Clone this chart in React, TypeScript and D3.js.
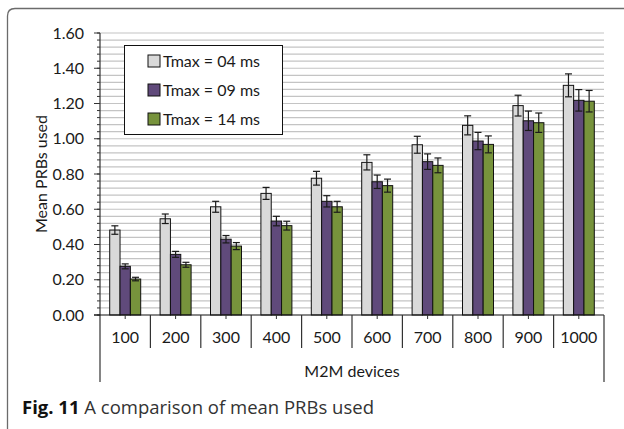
import React from "react";
import * as d3 from "d3";

const categories = ["100", "200", "300", "400", "500", "600", "700", "800", "900", "1000"];
const seriesNames = ["Tmax = 04 ms", "Tmax = 09 ms", "Tmax = 14 ms"];
const seriesColors = ["#d9d9d9", "#604a7b", "#77933c"];
const tmax04 = [0.482, 0.546, 0.614, 0.69, 0.776, 0.866, 0.966, 1.076, 1.188, 1.303];
const tmax09 = [0.276, 0.344, 0.43, 0.533, 0.645, 0.756, 0.87, 0.987, 1.102, 1.218];
const tmax14 = [0.204, 0.285, 0.391, 0.507, 0.614, 0.734, 0.849, 0.968, 1.091, 1.213];
const err04 = [0.024, 0.027, 0.031, 0.034, 0.039, 0.043, 0.048, 0.054, 0.059, 0.065];
const err09 = [0.014, 0.017, 0.021, 0.027, 0.032, 0.038, 0.044, 0.049, 0.055, 0.061];
const err14 = [0.01, 0.014, 0.02, 0.025, 0.031, 0.037, 0.042, 0.048, 0.055, 0.061];
const yTicks = [0, 0.2, 0.4, 0.6, 0.8, 1.0, 1.2, 1.4, 1.6];
const yTitle = "Mean PRBs used";
const xTitle = "M2M devices";

const values = [tmax04, tmax09, tmax14];
const errors = [err04, err09, err14];

const FONT = "Lato, 'Open Sans', sans-serif";
const FS = 16;

export default function App() {
  const left = 100, right = 604, top = 33, bottom = 315;
  const x0 = d3.scaleBand<string>().domain(categories).range([left, right]).paddingInner(0).paddingOuter(0);
  const step = x0.bandwidth();
  const x1 = d3.scaleBand<string>().domain(seriesNames).range([9.7, step - 9.7]).padding(0);
  const y = d3.scaleLinear().domain([0, 1.6]).range([bottom, top]);
  const minor = d3.range(0, 41).map((i) => i * 0.04);

  return (
    <svg width={624} height={429} style={{ position: "absolute", left: 0, top: 0, background: "#fff" }}>
      {/* frame */}
      <path d="M7.5,440 L7.5,16 Q7.5,8.5 15,8.5 L640,8.5" fill="none" stroke="#6b6b6b" strokeWidth={1.3} />

      {/* gridlines */}
      {minor.slice(1).map((v, i) => (
        <line key={"g" + i} x1={left} x2={right} y1={y(v)} y2={y(v)} stroke="#c4c4c4" strokeWidth={1.2} />
      ))}

      {/* y minor ticks */}
      {minor.map((v, i) => (
        <line key={"mt" + i} x1={left - 3} x2={left} y1={y(v)} y2={y(v)} stroke="#333" strokeWidth={1} />
      ))}
      {yTicks.map((v, i) => (
        <g key={"yt" + i}>
          <line x1={left - 6} x2={left} y1={y(v)} y2={y(v)} stroke="#333" strokeWidth={1} />
          <text x={84} y={y(v)} dy="0.35em" textAnchor="end" fontFamily={FONT} fontSize={FS} fill="#1a1a1a">
            {d3.format(".2f")(v)}
          </text>
        </g>
      ))}

      {/* bars */}
      {categories.map((c, ci) => (
        <g key={"c" + c} transform={`translate(${x0(c)},0)`}>
          {seriesNames.map((s, si) => {
            const v = values[si][ci];
            const bx = x1(s)!;
            const bw = x1.bandwidth();
            return (
              <rect key={s} x={bx} y={y(v)} width={bw} height={y(0) - y(v)} fill={seriesColors[si]} stroke="#111" strokeWidth={1} />
            );
          })}
          {seriesNames.map((s, si) => {
            const v = values[si][ci];
            const e = errors[si][ci];
            const cx = x1(s)! + x1.bandwidth() / 2;
            return (
              <g key={"e" + s} stroke="#1a1a1a" strokeWidth={1.2}>
                <line x1={cx} x2={cx} y1={y(v + e)} y2={y(v - e)} />
                <line x1={cx - 3.5} x2={cx + 3.5} y1={y(v + e)} y2={y(v + e)} />
                <line x1={cx - 3.5} x2={cx + 3.5} y1={y(v - e)} y2={y(v - e)} />
              </g>
            );
          })}
        </g>
      ))}

      {/* axes */}
      <line x1={left} x2={left} y1={top} y2={382} stroke="#333" strokeWidth={1.2} />
      <line x1={left - 6} x2={right} y1={bottom} y2={bottom} stroke="#111" strokeWidth={1.2} />
      <line x1={right} x2={right} y1={bottom} y2={382} stroke="#333" strokeWidth={1.2} />
      {categories.map((c, i) => (
        <g key={"xl" + c}>
          {i > 0 && <line x1={x0(c)} x2={x0(c)} y1={bottom} y2={348} stroke="#333" strokeWidth={1.2} />}
          <line x1={x0(c)! + step / 2} x2={x0(c)! + step / 2} y1={bottom} y2={bottom + 4} stroke="#333" strokeWidth={1} />
          <text x={x0(c)! + step / 2} y={337} dy="0.35em" textAnchor="middle" fontFamily={FONT} fontSize={FS} fill="#1a1a1a">
            {c}
          </text>
        </g>
      ))}
      <text x={352} y={371} dy="0.35em" textAnchor="middle" fontFamily={FONT} fontSize={FS} fill="#1a1a1a">
        {xTitle}
      </text>
      <text transform={`translate(41,${(top + bottom) / 2}) rotate(-90)`} dy="0.35em" textAnchor="middle" fontFamily={FONT} fontSize={FS} fill="#1a1a1a">
        {yTitle}
      </text>

      {/* legend */}
      <rect x={124.5} y={45.5} width={158} height={89} fill="#fff" stroke="#111" strokeWidth={1} />
      {seriesNames.map((s, i) => (
        <g key={"lg" + s} transform={`translate(148,${61 + i * 29})`}>
          <rect x={0} y={-6} width={12} height={12} fill={seriesColors[i]} stroke="#111" strokeWidth={1} />
          <text x={15} y={0} dy="0.35em" fontFamily={FONT} fontSize={FS} fill="#1a1a1a">
            {s}
          </text>
        </g>
      ))}

      {/* caption */}
      <text x={22} y={414} fontFamily="'Open Sans', sans-serif" fontSize={18.5} fill="#333">
        <tspan fontWeight="bold" fill="#111">Fig. 11</tspan>
        <tspan> A comparison of mean PRBs used</tspan>
      </text>
    </svg>
  );
}
